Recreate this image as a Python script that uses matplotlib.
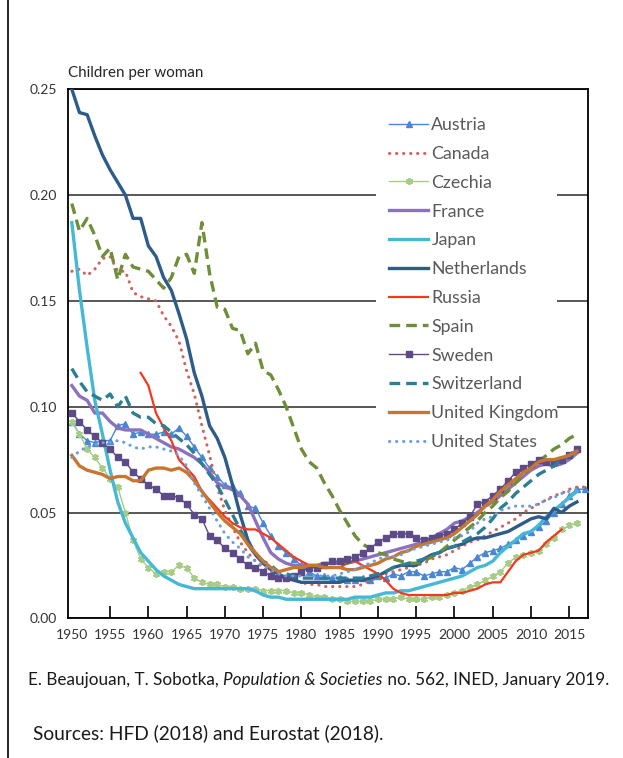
import matplotlib
matplotlib.use("Agg")
import matplotlib.pyplot as plt
from matplotlib.lines import Line2D
from matplotlib.patches import Rectangle

plt.rcParams["font.family"] = ["Lato", "DejaVu Sans"]

# ── Data: children per woman, 1950 onwards ──────────────────────────
years = list(range(1950, 2017))
years_long = list(range(1950, 2018))
years_russia = list(range(1959, 2015))

austria = [
    0.093, 0.087, 0.084, 0.083, 0.084, 0.084, 0.091, 0.092, 0.087, 0.088,
    0.087, 0.087, 0.088, 0.087, 0.090, 0.086, 0.081, 0.076, 0.071, 0.067,
    0.063, 0.062, 0.059, 0.053, 0.052, 0.045, 0.039, 0.034, 0.031, 0.028,
    0.025, 0.022, 0.020, 0.020, 0.019, 0.019, 0.018, 0.018, 0.019, 0.018,
    0.020, 0.019, 0.021, 0.020, 0.022, 0.022, 0.020, 0.021, 0.022, 0.022,
    0.024, 0.023, 0.026, 0.029, 0.031, 0.032, 0.033, 0.035, 0.037, 0.039,
    0.041, 0.043, 0.046, 0.050, 0.054, 0.058, 0.061, 0.061,
]
canada = [
    0.164, 0.165, 0.162, 0.165, 0.170, 0.171, 0.164, 0.164, 0.154, 0.152,
    0.151, 0.150, 0.143, 0.138, 0.131, 0.117, 0.106, 0.091, 0.077, 0.062,
    0.051, 0.043, 0.036, 0.031, 0.027, 0.024, 0.022, 0.020, 0.019, 0.018,
    0.017, 0.016, 0.016, 0.015, 0.015, 0.015, 0.015, 0.015, 0.016, 0.018,
    0.019, 0.021, 0.022, 0.023, 0.024, 0.025, 0.026, 0.028, 0.029, 0.030,
    0.032, 0.034, 0.036, 0.037, 0.039, 0.041, 0.043, 0.045, 0.047, 0.050,
    0.052, 0.054, 0.056, 0.058, 0.059, 0.061, 0.062, 0.062,
]
czechia = [
    0.093, 0.087, 0.080, 0.076, 0.071, 0.066, 0.062, 0.050, 0.037, 0.028,
    0.024, 0.021, 0.022, 0.022, 0.025, 0.024, 0.019, 0.017, 0.016, 0.016,
    0.015, 0.015, 0.014, 0.014, 0.014, 0.013, 0.013, 0.013, 0.013, 0.012,
    0.012, 0.011, 0.010, 0.010, 0.009, 0.009, 0.008, 0.008, 0.008, 0.008,
    0.009, 0.009, 0.009, 0.010, 0.009, 0.009, 0.009, 0.010, 0.010, 0.011,
    0.012, 0.013, 0.015, 0.016, 0.018, 0.020, 0.022, 0.026, 0.029, 0.030,
    0.031, 0.032, 0.035, 0.038, 0.042, 0.044, 0.045,
]
france = [
    0.110, 0.105, 0.103, 0.097, 0.097, 0.093, 0.090, 0.089, 0.089, 0.089,
    0.087, 0.085, 0.083, 0.081, 0.080, 0.078, 0.076, 0.073, 0.069, 0.064,
    0.062, 0.061, 0.058, 0.054, 0.046, 0.038, 0.031, 0.028, 0.026, 0.025,
    0.025, 0.025, 0.025, 0.026, 0.026, 0.026, 0.026, 0.027, 0.028, 0.029,
    0.030, 0.031, 0.032, 0.033, 0.034, 0.035, 0.036, 0.038, 0.040, 0.042,
    0.045, 0.046, 0.048, 0.050, 0.053, 0.055, 0.058, 0.061, 0.064, 0.067,
    0.070, 0.072, 0.073, 0.072, 0.073, 0.075, 0.078,
]
japan = [
    0.187, 0.155, 0.128, 0.103, 0.087, 0.070, 0.055, 0.045, 0.038, 0.031,
    0.027, 0.023, 0.020, 0.018, 0.016, 0.015, 0.014, 0.014, 0.014, 0.014,
    0.014, 0.014, 0.014, 0.014, 0.013, 0.011, 0.010, 0.010, 0.009, 0.009,
    0.009, 0.009, 0.009, 0.009, 0.009, 0.009, 0.009, 0.010, 0.010, 0.010,
    0.011, 0.012, 0.012, 0.013, 0.013, 0.014, 0.015, 0.016, 0.017, 0.018,
    0.019, 0.020, 0.022, 0.024, 0.025, 0.027, 0.031, 0.034, 0.037, 0.040,
    0.041, 0.044, 0.048, 0.051, 0.054, 0.057, 0.060,
]
netherlands = [
    0.250, 0.239, 0.238, 0.228, 0.219, 0.212, 0.206, 0.200, 0.189, 0.189,
    0.176, 0.171, 0.161, 0.155, 0.144, 0.132, 0.116, 0.105, 0.091, 0.085,
    0.076, 0.063, 0.049, 0.037, 0.030, 0.026, 0.023, 0.021, 0.019, 0.018,
    0.017, 0.017, 0.017, 0.017, 0.017, 0.017, 0.018, 0.018, 0.018, 0.019,
    0.020, 0.022, 0.024, 0.025, 0.025, 0.025, 0.028, 0.030, 0.031, 0.033,
    0.034, 0.035, 0.037, 0.038, 0.038, 0.039, 0.040, 0.041, 0.043, 0.045,
    0.047, 0.048, 0.047, 0.052, 0.050, 0.053, 0.055,
]
russia = [
    0.116, 0.110, 0.097, 0.090, 0.084, 0.075, 0.071, 0.067, 0.060, 0.056,
    0.052, 0.048, 0.045, 0.043, 0.042, 0.042, 0.040, 0.038, 0.035, 0.032,
    0.029, 0.027, 0.025, 0.024, 0.024, 0.024, 0.024, 0.026, 0.027, 0.025,
    0.023, 0.021, 0.018, 0.014, 0.012, 0.011, 0.011, 0.011, 0.011, 0.011,
    0.011, 0.012, 0.012, 0.013, 0.014, 0.016, 0.017, 0.017, 0.022, 0.027,
    0.030, 0.031, 0.032, 0.036, 0.039, 0.042,
]
spain = [
    0.196, 0.183, 0.189, 0.181, 0.171, 0.175, 0.160, 0.172, 0.166, 0.165,
    0.164, 0.160, 0.156, 0.161, 0.171, 0.172, 0.163, 0.187, 0.163, 0.147,
    0.146, 0.137, 0.136, 0.125, 0.130, 0.117, 0.115, 0.108, 0.100, 0.090,
    0.080, 0.074, 0.071, 0.064, 0.058, 0.051, 0.045, 0.039, 0.035, 0.033,
    0.031, 0.030, 0.028, 0.027, 0.026, 0.026, 0.027, 0.029, 0.031, 0.034,
    0.037, 0.040, 0.043, 0.046, 0.050, 0.053, 0.057, 0.060, 0.064, 0.068,
    0.071, 0.074, 0.077, 0.080, 0.082, 0.085, 0.087,
]
sweden = [
    0.097, 0.093, 0.089, 0.086, 0.083, 0.080, 0.076, 0.074, 0.069, 0.066,
    0.063, 0.061, 0.058, 0.058, 0.057, 0.054, 0.049, 0.047, 0.039, 0.037,
    0.033, 0.031, 0.028, 0.025, 0.024, 0.022, 0.020, 0.019, 0.019, 0.020,
    0.022, 0.024, 0.024, 0.025, 0.027, 0.027, 0.028, 0.029, 0.031, 0.033,
    0.036, 0.038, 0.040, 0.040, 0.040, 0.038, 0.037, 0.038, 0.039, 0.040,
    0.042, 0.045, 0.048, 0.054, 0.055, 0.058, 0.061, 0.065, 0.069, 0.071,
    0.073, 0.075, 0.074, 0.074, 0.075, 0.077, 0.080,
]
switzerland = [
    0.118, 0.112, 0.107, 0.105, 0.103, 0.106, 0.100, 0.105, 0.097, 0.095,
    0.095, 0.092, 0.091, 0.088, 0.085, 0.082, 0.078, 0.073, 0.068, 0.063,
    0.056, 0.049, 0.042, 0.035, 0.030, 0.027, 0.025, 0.022, 0.021, 0.020,
    0.019, 0.019, 0.019, 0.019, 0.019, 0.019, 0.019, 0.019, 0.019, 0.020,
    0.021, 0.022, 0.024, 0.025, 0.026, 0.027, 0.028, 0.030, 0.031, 0.033,
    0.034, 0.036, 0.038, 0.040, 0.043, 0.047, 0.052, 0.055, 0.059, 0.062,
    0.065, 0.068, 0.070, 0.072, 0.075, 0.077, 0.080,
]
united_kingdom = [
    0.077, 0.072, 0.070, 0.069, 0.068, 0.066, 0.067, 0.067, 0.065, 0.065,
    0.070, 0.071, 0.071, 0.070, 0.071, 0.069, 0.065, 0.060, 0.055, 0.050,
    0.046, 0.043, 0.040, 0.035, 0.031, 0.027, 0.024, 0.022, 0.023, 0.024,
    0.024, 0.025, 0.025, 0.024, 0.024, 0.024, 0.023, 0.023, 0.024, 0.025,
    0.026, 0.028, 0.029, 0.031, 0.032, 0.034, 0.035, 0.036, 0.037, 0.038,
    0.040, 0.043, 0.046, 0.049, 0.053, 0.056, 0.060, 0.063, 0.066, 0.069,
    0.071, 0.074, 0.075, 0.075, 0.076, 0.077, 0.079,
]
united_states = [
    0.076, 0.079, 0.081, 0.082, 0.083, 0.083, 0.084, 0.083, 0.081, 0.080,
    0.081, 0.081, 0.080, 0.079, 0.077, 0.072, 0.064, 0.058, 0.052, 0.046,
    0.040, 0.036, 0.033, 0.029, 0.027, 0.025, 0.023, 0.021, 0.020, 0.020,
    0.020, 0.020, 0.020, 0.020, 0.020, 0.021, 0.022, 0.023, 0.025, 0.026,
    0.028, 0.029, 0.029, 0.030, 0.032, 0.033, 0.034, 0.035, 0.036, 0.037,
    0.038, 0.039, 0.041, 0.045, 0.047, 0.048, 0.051, 0.052, 0.053, 0.053,
    0.053, 0.054, 0.056, 0.057, 0.059, 0.060, 0.061,
]

x_ticks = list(range(1950, 2016, 5))
y_ticks = [0.00, 0.05, 0.10, 0.15, 0.20, 0.25]

# ── Series styling (Excel-like) ─────────────────────────────────────
DOT = (0, (0.1, 2.2))
DASH = (0, (3.2, 1.8))
series = [
    ("Austria", years_long, austria,
     dict(color="#4A86D4", lw=1.0, marker="^", ms=5)),
    ("Canada", years_long, canada,
     dict(color="#D0635D", lw=2.2, ls=DOT, dash_capstyle="round")),
    ("Czechia", years, czechia,
     dict(color="#A5CD85", lw=1.0, marker=(6, 2, 0), ms=5, mew=1.3)),
    ("France", years, france, dict(color="#8B72BE", lw=2.4)),
    ("Japan", years, japan, dict(color="#45B8D6", lw=2.4)),
    ("Netherlands", years, netherlands, dict(color="#2D5B8A", lw=2.4)),
    ("Russia", years_russia, russia, dict(color="#F2381E", lw=1.6)),
    ("Spain", years, spain, dict(color="#6F8E3A", lw=2.4, ls=DASH)),
    ("Sweden", years, sweden,
     dict(color="#5C4B87", lw=1.0, marker="s", ms=4.2)),
    ("Switzerland", years, switzerland,
     dict(color="#2E7E93", lw=2.4, ls=DASH)),
    ("United Kingdom", years, united_kingdom, dict(color="#C87530", lw=2.4)),
    ("United States", years, united_states,
     dict(color="#6A9FE0", lw=2.2, ls=DOT, dash_capstyle="round")),
]

W, H = 623, 758
fig = plt.figure(figsize=(W / 100, H / 100), dpi=100)
ax = fig.add_axes([68 / W, 1 - 618.3 / H, (588 - 68) / W, (618.3 - 89.3) / H])

for i, (name, xs, ys, style) in enumerate(series):
    ax.plot(xs, ys, label=name, zorder=3 + i * 0.1, **style)

ax.set_xlim(1949.5, 2017.45)
ax.set_ylim(0, 0.25)
ax.set_xticks(x_ticks)
ax.set_xticklabels([str(y) for y in x_ticks])
ax.set_yticks(y_ticks)
ax.set_yticklabels([f"{v:.2f}" for v in y_ticks])
ax.yaxis.grid(True, color="#4a4a4a", lw=1.3)
ax.set_axisbelow(True)
ax.tick_params(axis="y", length=0, pad=8, labelsize=10, labelcolor="#333333")
ax.tick_params(axis="x", direction="in", length=9, width=1.2, pad=8,
               labelsize=10, labelcolor="#333333")
ax.xaxis.get_major_ticks()[0].tick1line.set_visible(False)
for sp in ax.spines.values():
    sp.set_linewidth(1.3)
    sp.set_color("black")

# white legend area: hides the gridlines but not the data lines
ax.add_patch(Rectangle((376 / W, 1 - 455 / H), (557 - 376) / W, (455 - 108) / H,
                       transform=fig.transFigure, facecolor="white",
                       edgecolor="none", zorder=2.5, clip_on=False))

leg = ax.legend(
    loc="upper left", bbox_to_anchor=(382 / W, 1 - 110 / H),
    bbox_transform=fig.transFigure, frameon=False, fontsize=12.8,
    handlelength=2.2, handletextpad=0.18, labelspacing=0.72, borderpad=0.4,
    borderaxespad=0,
)
leg.set_zorder(10)
for t in leg.get_texts():
    t.set_color("#595959")

fig.text(68 / W, 1 - 73 / H, "Children per woman", fontsize=10.9,
         color="#262626", va="center", ha="left")

# left frame line of the original layout
fig.add_artist(Line2D([8 / W, 8 / W], [0, 1], transform=fig.transFigure,
                      color="black", lw=1.2))

# caption with italic journal name
fig.canvas.draw()
renderer = fig.canvas.get_renderer()
x = 28 / W
yc = 1 - 680 / H
for part, style in [("E. Beaujouan, T. Sobotka, ", "normal"),
                    ("Population & Societies", "italic"),
                    (" no. 562, INED, January 2019.", "normal")]:
    t = fig.text(x, yc, part, fontsize=12.3, style=style, color="#1a1a1a",
                 va="center", ha="left")
    bb = t.get_window_extent(renderer)
    x = bb.x1 / W

fig.text(33 / W, 1 - 733 / H, "Sources: HFD (2018) and Eurostat (2018).",
         fontsize=13.8, color="#1a1a1a", va="center", ha="left")

fig.savefig("out.png", dpi=100)
